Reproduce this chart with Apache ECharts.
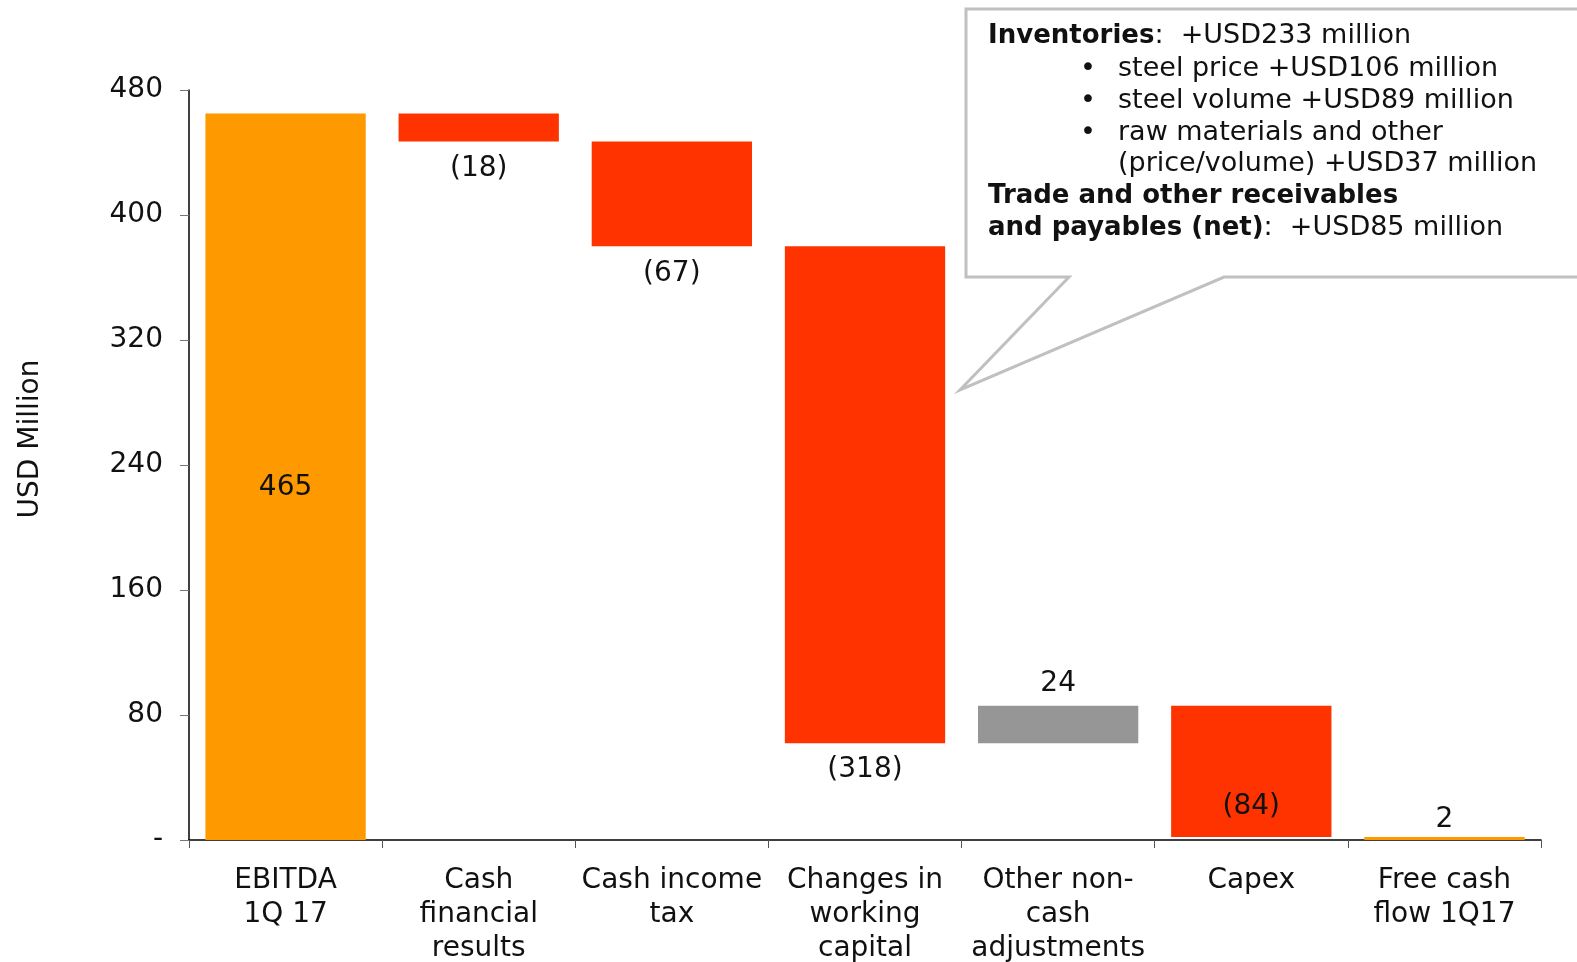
<!DOCTYPE html>
<html>
<head>
<meta charset="utf-8">
<script src="https://cdn.jsdelivr.net/npm/echarts@6/dist/echarts.min.js"></script>
<style>
  html, body { margin: 0; padding: 0; background: #fff; }
  #main { width: 1577px; height: 962px; }
</style>
</head>
<body>
<div id="main"></div>
<script>
// chart data
var categories = ['EBITDA\n1Q 17', 'Cash\nfinancial\nresults', 'Cash income\ntax', 'Changes in\nworking\ncapital', 'Other non-\ncash\nadjustments', 'Capex', 'Free cash\nflow 1Q17'];
var changes = [465, -18, -67, -318, 24, -84, 2];
var kinds = ['total', 'step', 'step', 'step', 'step', 'step', 'total'];
var yTicks = [0, 80, 160, 240, 320, 400, 480];

// callout text: [bold head, plain tail, bullet?]
var calloutLines = [
  ['Inventories', ':  +USD233 million', false],
  ['', 'steel price +USD106 million', true],
  ['', 'steel volume +USD89 million', true],
  ['', 'raw materials and other', true],
  ['', '(price/volume) +USD37 million', 'cont'],
  ['Trade and other receivables', '', false],
  ['and payables (net)', ':  +USD85 million', false]
];

var FONT = 'DejaVu Sans';
var ORANGE = '#FF9900', RED = '#FF3300', GREY = '#969696';

// build invisible base + visible bars
var base = [], bars = [];
var running = 0;
changes.forEach(function (v, i) {
  var lo, hi;
  if (kinds[i] === 'total') {
    lo = 0; hi = v; running = v;
  } else {
    var next = running + v;
    lo = Math.min(running, next); hi = Math.max(running, next);
    running = next;
  }
  base.push(lo);
  var color = kinds[i] === 'total' ? ORANGE : (v < 0 ? RED : GREY);
  var txt = v < 0 ? '(' + (-v) + ')' : String(v);
  var lab = { show: true, formatter: txt };
  if (i === 0) { lab.position = 'inside'; lab.offset = [0, 11]; }
  else if (v < 0 && lo < 20) { lab.position = 'insideBottom'; lab.distance = 16; }
  else if (v < 0) { lab.position = 'bottom'; lab.distance = 13; }
  else if (i === changes.length - 1) { lab.position = 'top'; lab.distance = 3; }
  else { lab.position = 'top'; lab.distance = 8; }
  bars.push({ value: hi - lo, itemStyle: { color: color }, label: lab });
});

var chart = echarts.init(document.getElementById('main'));

var graphics = [
  {
    type: 'polygon',
    z: 100,
    shape: {
      points: [[966, 9], [1590, 9], [1590, 277], [1224, 277], [960, 390], [1069, 277], [966, 277]]
    },
    style: { fill: '#fff', stroke: '#C0C0C0', lineWidth: 3 }
  }
];
var lineY = [36, 68.5, 100.5, 133, 164, 196, 228];
calloutLines.forEach(function (ln, i) {
  var y = lineY[i];
  if (ln[2] === true) {
    graphics.push({ type: 'text', z: 101, x: 1080, y: y,
      style: { text: '•', fill: '#111', font: '27px ' + FONT, verticalAlign: 'middle' } });
  }
  if (ln[2]) {
    graphics.push({ type: 'text', z: 101, x: 1118, y: y,
      style: { text: ln[1], fill: '#111', font: '27px ' + FONT, verticalAlign: 'middle' } });
  } else {
    graphics.push({ type: 'text', z: 101, x: 988, y: y,
      style: {
        text: '{b|' + ln[0] + '}{t|' + ln[1] + '}',
        verticalAlign: 'middle',
        rich: {
          b: { fontFamily: FONT, fontSize: 26, fontWeight: 'bold', fill: '#111' },
          t: { fontFamily: FONT, fontSize: 27, fill: '#111' }
        }
      } });
  }
});

var option = {
  animation: false,
  grid: { left: 189, right: 36, top: 90, bottom: 122, outerBoundsMode: 'none' },
  xAxis: {
    type: 'category',
    data: categories,
    axisLine: { lineStyle: { color: '#000', width: 1.5 } },
    axisTick: { show: true, length: 8, lineStyle: { color: '#555' } },
    axisLabel: {
      interval: 0, margin: 24, color: '#111',
      fontFamily: FONT, fontSize: 28, lineHeight: 34
    }
  },
  yAxis: {
    type: 'value',
    min: yTicks[0], max: yTicks[yTicks.length - 1], interval: 80,
    name: 'USD Million',
    nameLocation: 'middle',
    nameRotate: 90,
    nameGap: 144,
    nameTextStyle: { fontFamily: FONT, fontSize: 28, color: '#111', padding: [0, 0, 0, 52] },
    splitLine: { show: false },
    axisLine: { show: true, lineStyle: { color: '#000', width: 1.5 } },
    axisTick: { show: true, length: 9, lineStyle: { color: '#777' } },
    axisLabel: {
      margin: 26, color: '#111', fontFamily: FONT, fontSize: 28,
      formatter: function (v) { return v === 0 ? '-' : v; }
    }
  },
  series: [
    {
      type: 'bar', stack: 'wf', data: base,
      itemStyle: { color: 'transparent' },
      emphasis: { disabled: true },
      barWidth: '83%'
    },
    {
      type: 'bar', stack: 'wf', data: bars,
      barWidth: '83%',
      label: { color: '#111', fontFamily: FONT, fontSize: 28 }
    }
  ],
  graphic: graphics
};

chart.setOption(option);
</script>
</body>
</html>
